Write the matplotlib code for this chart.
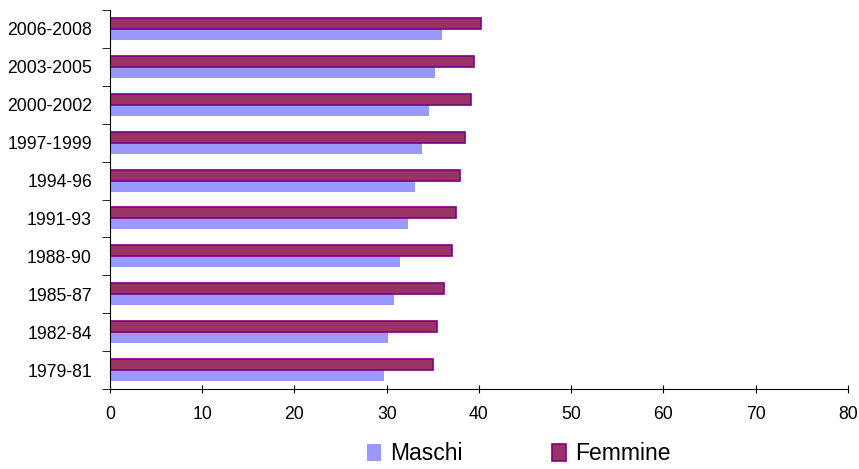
import matplotlib
matplotlib.use("Agg")
import matplotlib.pyplot as plt
import numpy as np

periods = ["1979-81", "1982-84", "1985-87", "1988-90", "1991-93",
           "1994-96", "1997-1999", "2000-2002", "2003-2005", "2006-2008"]
maschi = [29.7, 30.1, 30.8, 31.5, 32.3, 33.1, 33.8, 34.6, 35.2, 36.0]
femmine = [35.0, 35.5, 36.2, 37.1, 37.5, 38.0, 38.5, 39.1, 39.5, 40.2]

plt.rcParams["font.family"] = ["Liberation Sans", "DejaVu Sans"]

fig = plt.figure(figsize=(8.59, 4.69), dpi=100)
ax = fig.add_axes([0.128, 0.1706, 0.859, 0.808])

y = np.arange(len(periods))
h = 0.29
ax.barh(y - h / 2, maschi, height=h, color="#9999FF", edgecolor="none", label="Maschi")
ax.barh(y + h / 2, femmine, height=h, color="#993366", edgecolor="#800080",
        linewidth=1.2, label="Femmine")

ax.set_xlim(0, 80)
ax.set_ylim(-0.5, len(periods) - 0.5)
ax.set_xticks(range(0, 81, 10))
ax.set_yticks(y)
ax.set_yticklabels(periods)
ax.set_yticks(np.arange(-0.5, len(periods), 1), minor=True)
ax.tick_params(axis="y", which="major", length=0, pad=13, labelsize=12.7)
ax.tick_params(axis="y", which="minor", length=6, direction="out")
ax.tick_params(axis="x", length=6, direction="inout", pad=9, labelsize=12.7)

for s in ["top", "right"]:
    ax.spines[s].set_visible(False)

fig.legend(loc="lower center", bbox_to_anchor=(0.604, -0.036), ncol=2, frameon=False,
           fontsize=16.5, handlelength=0.6, handleheight=0.8, handletextpad=0.4,
           columnspacing=3.9)

fig.savefig("out.png", dpi=100)
